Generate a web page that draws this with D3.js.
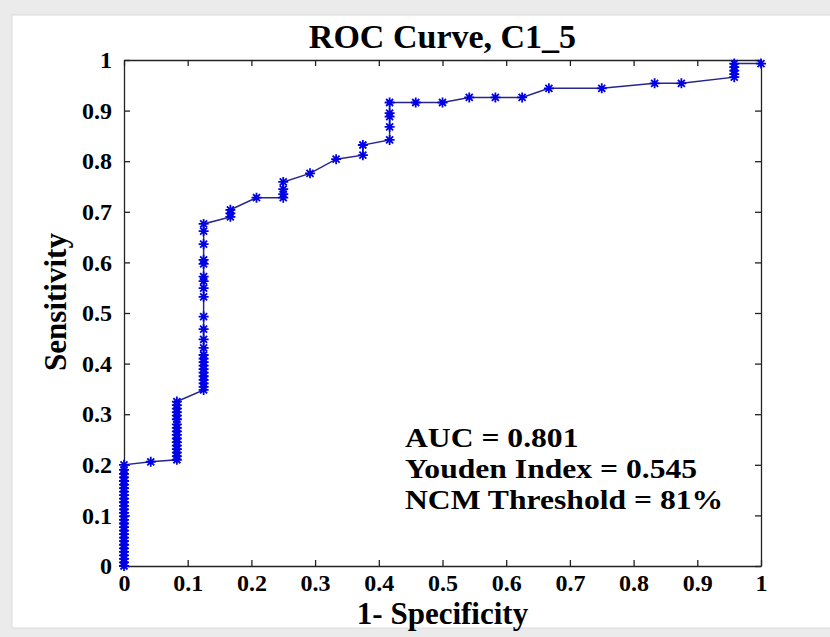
<!DOCTYPE html>
<html>
<head>
<meta charset="utf-8">
<script src="https://cdn.jsdelivr.net/npm/d3@7"></script>
<style>
  html, body { margin: 0; padding: 0; background: #ebebeb; }
  svg { display: block; }
  text { font-family: "Liberation Serif", "Times New Roman", serif; font-weight: bold; }
</style>
</head>
<body>
<div id="chart"></div>
<script>
// Data: ROC points (1 - specificity, sensitivity)
const fpr = [
  0, 0, 0, 0, 0, 0, 0, 0, 0, 0, 0, 0, 0, 0, 0,
  0, 0, 0, 0, 0, 0, 0, 0, 0, 0, 0, 0, 0, 0,
  0.042,
  0.083, 0.083, 0.083, 0.083, 0.083, 0.083, 0.083, 0.083, 0.083, 0.083, 0.083, 0.083, 0.083, 0.083, 0.083, 0.083, 0.083,
  0.125, 0.125, 0.125, 0.125, 0.125, 0.125, 0.125, 0.125, 0.125, 0.125, 0.125, 0.125, 0.125, 0.125, 0.125, 0.125,
  0.125, 0.125, 0.125, 0.125, 0.125, 0.125, 0.125, 0.125,
  0.167, 0.167, 0.167,
  0.208,
  0.25, 0.25, 0.25, 0.25,
  0.292,
  0.333,
  0.375, 0.375,
  0.417, 0.417, 0.417, 0.417, 0.417,
  0.458, 0.5, 0.542, 0.583, 0.625, 0.667, 0.75, 0.833, 0.875,
  0.958, 0.958, 0.958, 0.958, 0.958,
  1
];
const tpr = [
  0, 0.007, 0.014, 0.021, 0.028, 0.035, 0.042, 0.049, 0.056, 0.063, 0.070, 0.077, 0.084, 0.091, 0.098,
  0.105, 0.112, 0.119, 0.126, 0.133, 0.140, 0.147, 0.154, 0.161, 0.168, 0.175, 0.182, 0.190, 0.200,
  0.206,
  0.210, 0.217, 0.224, 0.231, 0.238, 0.245, 0.252, 0.259, 0.266, 0.273, 0.280, 0.290, 0.297, 0.304, 0.311, 0.318, 0.325,
  0.348, 0.354, 0.361, 0.368, 0.375, 0.382, 0.389, 0.396, 0.403, 0.410, 0.417, 0.431, 0.448, 0.468, 0.493, 0.532,
  0.549, 0.563, 0.572, 0.597, 0.605, 0.636, 0.662, 0.676,
  0.690, 0.697, 0.704,
  0.728,
  0.728, 0.735, 0.745, 0.759,
  0.776,
  0.804,
  0.812, 0.832,
  0.842, 0.868, 0.888, 0.895, 0.916,
  0.916, 0.916, 0.926, 0.926, 0.926, 0.944, 0.944, 0.954, 0.954,
  0.966, 0.972, 0.979, 0.986, 0.993,
  0.993
];
const tickValues = [0, 0.1, 0.2, 0.3, 0.4, 0.5, 0.6, 0.7, 0.8, 0.9, 1];
const titleText = 'ROC Curve, C1_5';
const xLabel = '1- Specificity';
const yLabel = 'Sensitivity';
const notes = ['AUC = 0.801', 'Youden Index = 0.545', 'NCM Threshold = 81%'];

const W = 830, H = 637;
const margin = { left: 124, right: 69, top: 60, bottom: 71 };
const pts = fpr.map((x, i) => ({ x, y: tpr[i] }));

const svg = d3.select('#chart').append('svg')
  .attr('width', W).attr('height', H);

// panel
svg.append('rect')
  .attr('x', 12).attr('y', 15).attr('width', W - 11).attr('height', 613)
  .attr('fill', '#fff').attr('stroke', '#dcdcdc');

const x = d3.scaleLinear().domain([0, 1]).range([margin.left, W - margin.right]);
const y = d3.scaleLinear().domain([0, 1]).range([H - margin.bottom, margin.top]);

const fmt = d => d === 0 ? '0' : d === 1 ? '1' : d3.format('.1f')(d);

// axes (ticks inward, box on)
const gx = svg.append('g').attr('transform', `translate(0,${y(0)})`)
  .call(d3.axisBottom(x).tickValues(tickValues).tickFormat(fmt).tickSizeInner(-6).tickSizeOuter(0).tickPadding(8));
const gy = svg.append('g').attr('transform', `translate(${x(0)},0)`)
  .call(d3.axisLeft(y).tickValues(tickValues).tickFormat(fmt).tickSizeInner(-6).tickSizeOuter(0).tickPadding(12));
const gt = svg.append('g').attr('transform', `translate(0,${y(1)})`)
  .call(d3.axisTop(x).tickValues(tickValues).tickFormat('').tickSizeInner(-6).tickSizeOuter(0));
const gr = svg.append('g').attr('transform', `translate(${x(1)},0)`)
  .call(d3.axisRight(y).tickValues(tickValues).tickFormat('').tickSizeInner(-6).tickSizeOuter(0));

[gx, gy, gt, gr].forEach(g => {
  g.select('.domain').attr('stroke', '#222').attr('stroke-width', 1.3);
  g.selectAll('.tick line').attr('stroke', '#222').attr('stroke-width', 1.3);
  g.selectAll('.tick text').attr('font-size', 24).attr('fill', '#000')
    .attr('font-family', '"Liberation Serif", serif').attr('font-weight', 'bold');
});
gx.selectAll('.tick text').attr('dy', '0.71em');

// line
svg.append('path')
  .datum(pts)
  .attr('fill', 'none')
  .attr('stroke', '#26268f')
  .attr('stroke-width', 1.5)
  .attr('d', d3.line().x(d => x(d.x)).y(d => y(d.y)));

// star markers
const r = 5;
const star = `M${-r},0L${r},0M0,${-r}L0,${r}M${-r * 0.7},${-r * 0.7}L${r * 0.7},${r * 0.7}M${-r * 0.7},${r * 0.7}L${r * 0.7},${-r * 0.7}`;
svg.append('g').selectAll('path')
  .data(pts)
  .join('path')
  .attr('transform', d => `translate(${x(d.x)},${y(d.y)})`)
  .attr('d', star)
  .attr('stroke', '#0000e6')
  .attr('stroke-width', 1.8)
  .attr('fill', 'none');

// title and labels
svg.append('text')
  .attr('x', (x(0) + x(1)) / 2).attr('y', 48)
  .attr('text-anchor', 'middle').attr('font-size', 34)
  .text(titleText);

svg.append('text')
  .attr('x', (x(0) + x(1)) / 2).attr('y', 624)
  .attr('text-anchor', 'middle').attr('font-size', 31)
  .text(xLabel);

svg.append('text')
  .attr('transform', 'translate(66,302) rotate(-90)')
  .attr('text-anchor', 'middle').attr('font-size', 31)
  .text(yLabel);

// annotation, a little wider than tall like the reference
svg.append('g').selectAll('text')
  .data(notes)
  .join('text')
  .attr('transform', (d, i) => `translate(405,${447 + i * 31}) scale(1.13,1)`)
  .attr('font-size', 28)
  .text(d => d);
</script>
</body>
</html>
